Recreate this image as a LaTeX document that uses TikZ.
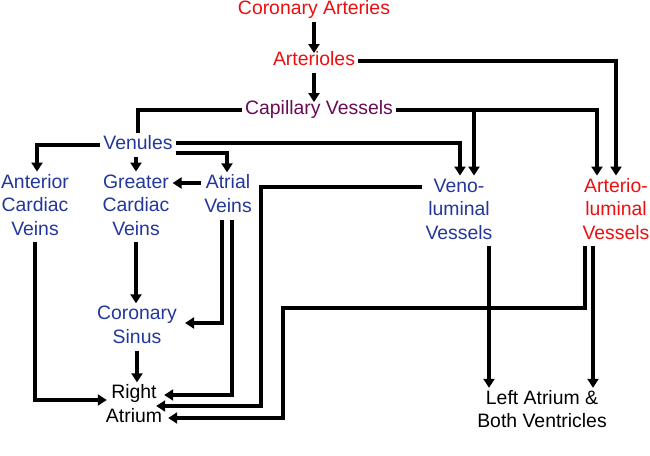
\documentclass[tikz,border=0pt]{standalone}
\usepackage{fontspec}
\setmainfont{Liberation Sans}
\usetikzlibrary{arrows.meta,calc}
\definecolor{cred}{RGB}{235,15,15}
\definecolor{cblue}{RGB}{35,55,155}
\definecolor{cpurp}{RGB}{105,10,85}
\begin{document}
\begin{tikzpicture}[x=1pt,y=-1pt,
  lbl/.style={font=\fontsize{19.4}{23.5}\selectfont, align=center, inner xsep=3pt, inner ysep=0pt},
  ln/.style={line width=3.4pt},
  arr/.style={line width=3.4pt, -{Triangle[length=9pt,width=11pt]}}]
\useasboundingbox (0,0) rectangle (650,455);
% nodes
\node[lbl,text=cred] (ca) at (314,10) {\strut Coronary Arteries};
\node[lbl,text=cred] (al) at (314,61) {\strut Arterioles};
\node[lbl,text=cpurp] (cv) at (319,110) {\strut Capillary Vessels};
\node[lbl,text=cblue] (vn) at (138,145) {\strut Venules};
\node[lbl,text=cblue] (acv) at (35,207) {\strut Anterior\\\strut Cardiac\\\strut Veins};
\node[lbl,text=cblue] (gcv) at (136,207) {\strut Greater\\\strut Cardiac\\\strut Veins};
\node[lbl,text=cblue] (av) at (228,196) {\strut Atrial\\\strut Veins};
\node[lbl,text=cblue] (vlv) at (459,211) {\strut Veno-\\\strut luminal\\\strut Vessels};
\node[lbl,text=cred] (alv) at (616,211) {\strut Arterio-\\\strut luminal\\\strut Vessels};
\node[lbl,text=cblue] (cs) at (137,327) {\strut Coronary\\\strut Sinus};
\node[lbl] (ra) at (134,406) {\strut Right\\\strut Atrium};
\node[lbl] (la) at (542,411.5) {\strut Left Atrium \&\\\strut Both Ventricles};
% route helpers
\coordinate (xA) at (616,0);
\coordinate (xB) at (597,0);
\coordinate (xC) at (474,0);
\coordinate (xD) at (460,0);
\coordinate (xE) at (37,0);
\coordinate (xF) at (227,0);
\coordinate (xG) at (222,0);
\coordinate (xH) at (232,0);
\coordinate (xI) at (261,0);
\coordinate (xJ) at (585,0);
\coordinate (xK) at (283,0);
\coordinate (xL) at (593,0);
\coordinate (xM) at (489,0);
\coordinate (yK) at (0,308);
\coordinate (raA) at ($(ra.west)+(4,-6)$);
\coordinate (raB) at ($(ra.east)+(-1,-11)$);
\coordinate (raC) at ($(ra.east)+(-9,0)$);
\coordinate (raD) at ($(ra.east)+(3,12)$);
\coordinate (csin) at ($(cs.east)+(5,-4)$);
\coordinate (avl) at ($(av.west)+(0,-13)$);
\coordinate (vlw) at ($(vlv.west)+(0,-24)$);
\coordinate (vnA) at ($(vn.east)+(0,-2)$);
\coordinate (vnB) at ($(vn.east)+(0,8)$);
\coordinate (alin) at ($(al.north)+(0,4)$);
\coordinate (cvin) at ($(al.south |- cv.north)+(0,4)$);
% connectors
\draw[arr] (ca.south) -- (alin);
\draw[arr] (al.east) -| (xA |- alv.north);
\draw[arr] (al.south) -- (cvin);
\draw[ln] (cv.west) -| (vn.north);
\draw[arr] (cv.east) -| (xB |- alv.north);
\draw[arr] (cv.east -| xC) -- (xC |- vlv.north);
\draw[arr] (vn.west) -| (xE |- acv.north);
\draw[arr] (gcv.north |- vn.south) -- (gcv.north);
\draw[arr] (vnA) -| (xD |- vlv.north);
\draw[arr] (vnB) -| (xF |- av.north);
\draw[arr] (avl) -- (avl -| gcv.east);
\draw[arr] (gcv.south) -- (gcv.south |- cs.north);
\draw[arr] (cs.south) -- (cs.south |- ra.north);
\draw[arr] (xG |- av.south) |- (csin);
\draw[arr] (xH |- av.south) |- (raB);
\draw[arr] (acv.south) |- (raA);
\draw[arr] (vlw) -| (xI |- raC) -- (raC);
\draw[arr] (xJ |- alv.south) |- (xK |- yK) |- (raD);
\draw[arr] (xL |- alv.south) -- (xL |- la.north);
\draw[arr] (xM |- vlv.south) -- (xM |- la.north);
\end{tikzpicture}
\end{document}
